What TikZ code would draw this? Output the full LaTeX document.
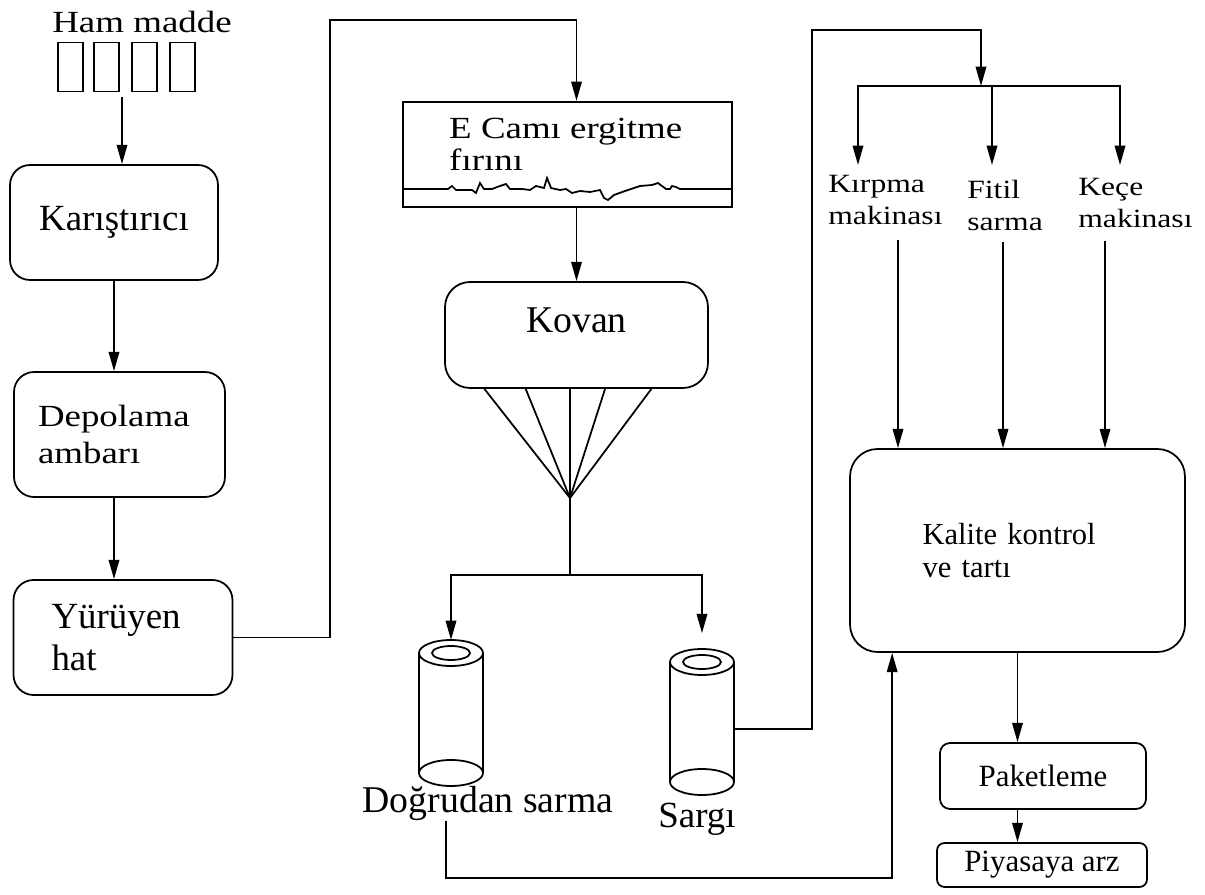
\documentclass[tikz,border=0pt]{standalone}
\usepackage{fontspec}
\setmainfont{Liberation Serif}
\newfontfamily\widefont{Liberation Serif}[FakeStretch=1.2]
\usetikzlibrary{arrows.meta, positioning, calc}
\tikzset{
  bobbin/.pic={
    \draw[line width=1pt] (-32,0) -- (-32,120) (32,0) -- (32,120);
    \draw[line width=1pt] (0,0) ellipse [x radius=32, y radius=13]
                          (0,0) ellipse [x radius=19, y radius=7]
                          (0,120) ellipse [x radius=32, y radius=13];
    \coordinate (-top) at (0,-13);
    \coordinate (-side) at (32,67);
  }
}
\begin{document}
\begin{tikzpicture}[x=0.02cm, y=-0.02cm,
    proc/.style={draw, line width=1pt, rounded corners=0.4cm, inner sep=0pt, font=\fontsize{21}{24}\selectfont},
    lbl/.style={inner sep=0pt, align=left, font=\widefont\fontsize{15}{18.2}\selectfont},
    silo/.style={draw, line width=0.8pt, inner sep=0pt, minimum width=0.5cm, minimum height=0.98cm},
    link/.style={line width=1pt},
    arr/.style={-{Triangle[length=11pt, width=6pt]}, line width=1pt},
  ]
  \useasboundingbox (0,0) rectangle (1205,895);

  % ham madde hatti
  \node[inner sep=0pt, font=\widefont\fontsize{17.5}{20}\selectfont] (hammadde) at (142,22) {Ham madde};
  \foreach \x [count=\i] in {58,94,132,170}
    \node[silo] (silo\i) at (\x+12.5,67) {};
  \coordinate (hamcikis) at (122,97);

  \node[proc, minimum width=4.16cm, minimum height=2.3cm] (karistirici) at (114,222.5) {Karıştırıcı};
  \node[proc, align=left, text width=3.26cm, inner xsep=0.48cm, minimum height=2.5cm,
        font=\widefont\fontsize{17.5}{21.6}\selectfont] (depolama) at (119.5,434.5) {Depolama\\ambarı};
  \node[proc, align=left, text width=2.86cm, inner xsep=0.76cm, minimum height=2.3cm] (yuruyen) at (123,637.5) {Yürüyen\\hat};

  \draw[arr] (hamcikis) -- (hamcikis |- karistirici.north);
  \draw[arr] (karistirici.south) -- (karistirici.south |- depolama.north);
  \draw[arr] (karistirici.south |- depolama.south) -- (karistirici.south |- yuruyen.north);

  % firin ve kovan
  \node[draw, line width=1.3pt, minimum width=6.58cm, minimum height=2.1cm] (firin) at (567.5,154.5) {};
  \node[lbl, anchor=north west, font=\widefont\fontsize{17.5}{18.2}\selectfont] (firintxt) at ($(firin.north west)+(47,17)$) {E Camı ergitme\\fırını};
  \draw[link] plot coordinates {(403,189) (448,189) (452,186) (456,190) (472,190) (476,193) (480,183) (484,189)
    (492,189) (500,186) (506,184) (510,189) (522,189) (530,190) (536,186) (544,188) (547,178) (551,188)
    (560,190) (566,189) (572,193) (580,191) (590,192) (600,190) (604,198) (608,200) (614,195) (625,191)
    (640,186) (652,185) (658,183) (662,186) (666,189) (670,189) (672,186) (676,187) (680,189) (700,189) (732,189)};
  \node[proc, rounded corners=0.5cm, minimum width=5.26cm, minimum height=2.12cm, text depth=0.6cm,
        font=\fontsize{21.5}{24}\selectfont] (kovan) at (576.5,335) {Kovan};

  \draw[arr] (yuruyen.east) -| (330,20) -| (firin.north -| kovan.north);
  \draw[arr] (firin.south -| kovan.north) -- (kovan.north);

  \coordinate (demet) at (570,498);
  \coordinate (ayir) at (570,575);
  \foreach \f in {0.152,0.308,0.475,0.608,0.783}
    \draw[link] ($(kovan.south west)!\f!(kovan.south east)$) -- (demet);
  \draw[link] (demet) -- (ayir);

  % bobinler
  \pic (dogrudan) at (451,653) {bobbin};
  \pic (sargi) at (702,662) {bobbin};
  \node[inner sep=0pt, anchor=base, font=\fontsize{21.5}{24}\selectfont] (dogrulbl) at (488,812) {Doğrudan sarma};
  \node[inner sep=0pt, anchor=base, font=\fontsize{21}{24}\selectfont] (sargilbl) at (697,827) {Sargı};
  \draw[arr] (ayir) -| (dogrudan-top);
  \draw[arr, shorten >=9pt] (ayir) -| (sargi-top);

  % makinalar
  \coordinate (dagit) at (981,86);
  \draw[arr] (sargi-side) -| (812,30) -| (dagit);
  \node[lbl, anchor=north west] (kirpma) at (828,175) {Kırpma\\makinası};
  \node[lbl, anchor=north west] (fitil) at (967,180) {Fitil\\sarma};
  \node[lbl, anchor=north west] (kece) at (1078,178) {Keçe\\makinası};
  \draw[arr] (dagit) -| ($(kirpma.north west)+(30,-10)$);
  \draw[arr] (dagit) -| ($(fitil.north west)+(25,-15)$);
  \draw[arr] (dagit) -| ($(kece.north west)+(42,-13)$);

  % kalite kontrol ve paketleme
  \node[proc, rounded corners=0.55cm, align=left, text width=3.8cm, inner xsep=1.45cm, minimum height=4.06cm,
        font=\fontsize{17.4}{18.8}\selectfont] (kalite) at (1017.5,550.5) {Kalite kontrol\\ve tartı};

  \coordinate (kirpmacikis) at ($(kirpma.south west)+(70,15)$);
  \coordinate (fitilcikis) at ($(fitil.south west)+(36,11)$);
  \coordinate (kececikis) at ($(kece.south west)+(27,13)$);
  \foreach \c in {kirpmacikis, fitilcikis, kececikis}
    \draw[arr] (\c) -- (\c |- kalite.north);

  \node[proc, rounded corners=0.2cm, minimum width=4.12cm, minimum height=1.32cm,
        font=\fontsize{17.6}{20}\selectfont] (paket) at (1043,776) {Paketleme};
  \node[proc, rounded corners=0.15cm, minimum width=4.2cm, minimum height=0.88cm,
        font=\fontsize{17.6}{20}\selectfont] (piyasa) at (1042,865) {Piyasaya arz};
  \draw[arr] (kalite.south) -- (kalite.south |- paket.north);
  \draw[arr] (kalite.south |- paket.south) -- (kalite.south |- piyasa.north);

  % dogrudan sarmadan geri donus
  \coordinate (geri) at (446,878);
  \coordinate (kalitegiris) at ($(kalite.south west)+(43,0)$);
  \draw[arr] (dogrulbl.south -| geri) -- (geri) -| (kalitegiris);
\end{tikzpicture}
\end{document}
